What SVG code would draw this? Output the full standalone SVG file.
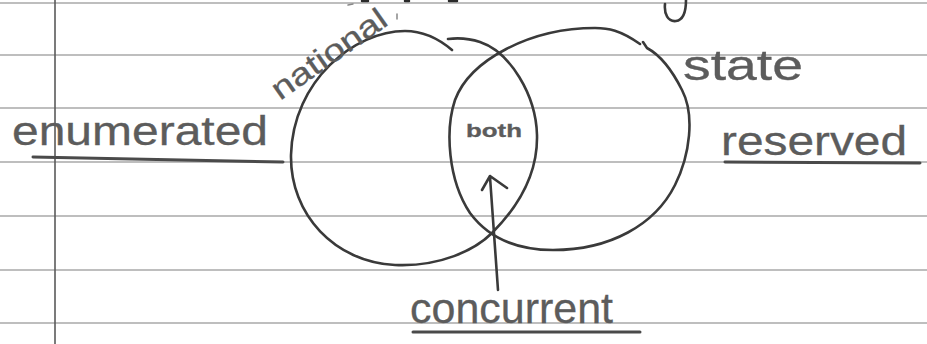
<svg xmlns="http://www.w3.org/2000/svg" width="927" height="344" viewBox="0 0 927 344">
<style>
.rule{stroke:#a9a9a9;stroke-width:1.6;fill:none}
.ink{stroke:#3a3a3a;stroke-width:2.6;fill:none;stroke-linecap:round;stroke-linejoin:round}
.hand{font-family:"Liberation Sans","DejaVu Sans",sans-serif;fill:#5c5c5c;stroke:#5c5c5c;stroke-width:0.3}
.ul{stroke:#4a4a4a;stroke-width:3;fill:none;stroke-linecap:round}
</style>
<rect width="927" height="344" fill="#ffffff"/>
<g id="paper">
<path class="rule" d="M0,3 H927 M0,55 H927 M0,108 H927 M0,162 H927 M0,216 H927 M0,270 H927 M0,323 H927"/>
<path d="M55,0 V344" stroke="#5a5a5a" stroke-width="1.6"/>
<path class="ink" d="M686,0 C686,10 684,20 676,21 C668,22 664,14 665,4"/>
<path d="M449,1 H457 M405,1 H409 M362,1 H368" stroke="#2a2a2a" stroke-width="2.5" stroke-linecap="round"/>
<path d="M397,14 V19 M348,5 L353,4" stroke="#888" stroke-width="1.5" stroke-linecap="round"/>
</g>
<g id="national">
<path class="ink" d="M452,50 C432,33 415,31 405,31 C355,31 293,80 291,155 C290,215 335,262 395,265 C440,267 475,250 492,233 C518,207 538,175 537,135 C536,95 510,52 480,42 C468,38 456,38 448,39"/>
<text class="hand" font-size="31" transform="translate(280,101) rotate(-35)" textLength="134" lengthAdjust="spacingAndGlyphs">national</text>
</g>
<g id="state">
<path class="ink" d="M640,44 C620,30 608,28 595,28 C530,28 470,60 455,100 C445,130 448,180 470,213 C490,240 520,250 553,250 C610,250 655,225 675,185 C690,155 695,115 682,90 C672,70 660,55 647,48 L643,42"/>
<text class="hand" x="683" y="80" font-size="42" textLength="120" lengthAdjust="spacingAndGlyphs">state</text>
</g>
<g id="both">
<text class="hand" x="466" y="137" font-size="18" font-weight="bold" fill="#707070" textLength="56" lengthAdjust="spacingAndGlyphs">both</text>
</g>
<g id="enumerated">
<text class="hand" x="12" y="145" font-size="40" textLength="256" lengthAdjust="spacingAndGlyphs">enumerated</text>
<path class="ul" d="M33,157 L283,162"/>
</g>
<g id="reserved">
<text class="hand" x="721" y="155" font-size="40" textLength="186" lengthAdjust="spacingAndGlyphs">reserved</text>
<path class="ul" d="M725,162 L920,163"/>
</g>
<g id="concurrent">
<text class="hand" x="410" y="323" font-size="42" textLength="203" lengthAdjust="spacingAndGlyphs">concurrent</text>
<path class="ul" d="M413,332 L640,332"/>
</g>
<g id="connectors">
<path class="ink" d="M498,290 L490,177 M482,190 L490,176 L507,188"/>
</g>
</svg>
